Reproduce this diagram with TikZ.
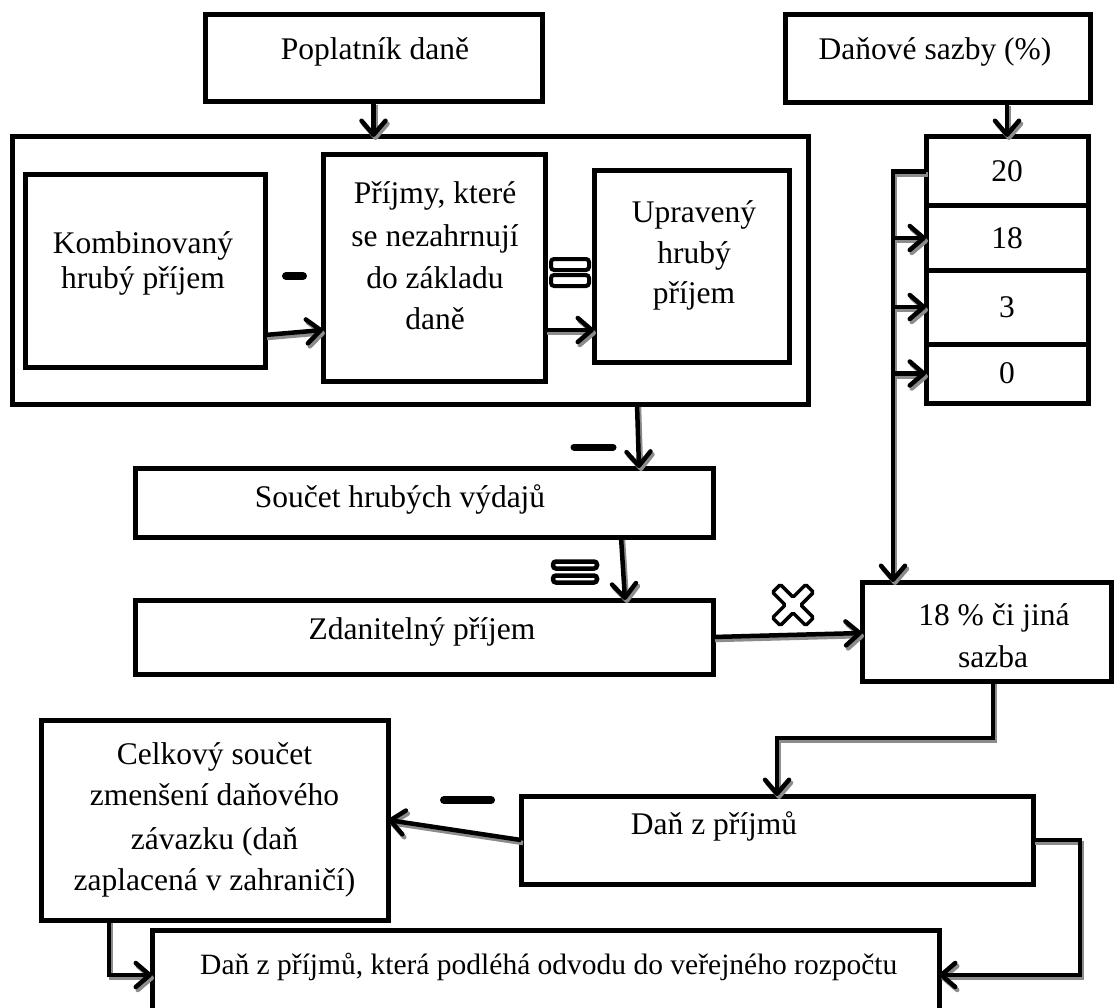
\documentclass[tikz,border=0pt]{standalone}
\usepackage{fontspec}
\setmainfont{Liberation Serif}
\usetikzlibrary{arrows.meta}

\begin{document}
\begin{tikzpicture}[x=1pt,y=-1pt,
  box/.style={draw, line width=5pt, inner sep=0pt, outer sep=0pt, rectangle},
  ln/.style={font=\fontsize{31.5}{38}\selectfont, anchor=base, inner sep=0pt},
  txt/.style={font=\fontsize{31.5}{38}\selectfont, inner sep=0pt},
  link/.style={line width=4.5pt,
    -{Straight Barb[length=14pt,width=24pt,round]},
    preaction={draw=black!45, line width=4.5pt,
      transform canvas={xshift=2pt,yshift=-3pt}}},
  opsign/.style={line width=8pt, line cap=round},
  eqbar/.style={draw, line width=4pt, rounded corners=3pt, fill=white},
]
\fill[white] (0,0) rectangle (1115,1008);
\useasboundingbox (0,0) rectangle (1115,1008);

% top boxes
\node[box, minimum width=337pt, minimum height=87pt] (pop) at (373.5,58.5) {};
\node[ln] (tpop) at (375,60) {Poplatník daně};
\node[box, minimum width=305pt, minimum height=88pt] (sazby) at (937.5,59) {};
\node[ln] (tsazby) at (935,60) {Daňové sazby (\%)};

% income block
\node[box, minimum width=796pt, minimum height=267pt] (outer) at (410,270.5) {};
\node[box, minimum width=240pt, minimum height=192pt] (komb) at (145,271) {};
\node[ln] (tkomb1) at (143,253) {Kombinovaný};
\node[ln] (tkomb2) at (143,288) {hrubý příjem};
\node[box, minimum width=222pt, minimum height=226pt] (prij) at (434,268) {};
\node[ln] (tprij1) at (435,204) {Příjmy, které};
\node[ln] (tprij2) at (435,246) {se nezahrnují};
\node[ln] (tprij3) at (435,288) {do základu};
\node[ln] (tprij4) at (435,329.5) {daně};
\node[box, minimum width=195pt, minimum height=191pt] (uprav) at (691.5,266.5) {};
\node[ln] (tuprav1) at (694,222.5) {Upravený};
\node[ln] (tuprav2) at (694,263) {hrubý};
\node[ln] (tuprav3) at (694,303) {příjem};

% rate table
\node[box, minimum width=162pt, minimum height=69pt] (r20) at (1007,171.5) {};
\node[box, minimum width=162pt, minimum height=64pt] (r18) at (1007,238) {};
\node[box, minimum width=162pt, minimum height=74pt] (r3) at (1007,307) {};
\node[box, minimum width=162pt, minimum height=59pt] (r0) at (1007,373.5) {};
\node[txt] (t20) at (r20) {20};
\node[txt] (t18) at (r18) {18};
\node[txt] (t3) at (r3) {3};
\node[txt] (t0) at (r0) {0};

% expenses and taxable income
\node[box, minimum width=578pt, minimum height=69pt] (soucet) at (424,502.5) {};
\node[ln] (tsoucet) at (400,507) {Součet hrubých výdajů};
\node[box, minimum width=578pt, minimum height=74pt] (zdan) at (424,637) {};
\node[ln] (tzdan) at (422,639) {Zdanitelný příjem};

% applied rate
\node[box, minimum width=249pt, minimum height=99pt] (s18) at (986.5,631.5) {};
\node[ln] (ts18a) at (994,625) {18 \% či jiná};
\node[ln] (ts18b) at (993,667) {sazba};

% tax and reductions
\node[box, minimum width=512pt, minimum height=88pt] (dan) at (777,840) {};
\node[ln] (tdan) at (714,834) {Daň z příjmů};
\node[box, minimum width=347pt, minimum height=200pt] (celk) at (214.5,820) {};
\node[ln] (tcelk1) at (214.5,764) {Celkový součet};
\node[ln] (tcelk2) at (214.5,805) {zmenšení daňového};
\node[ln] (tcelk3) at (214.5,849) {závazku (daň};
\node[ln] (tcelk4) at (214.5,890) {zaplacená v zahraničí)};
\node[box, minimum width=787pt, minimum height=90pt] (final) at (545.5,975) {};
\node[ln, anchor=base west, font=\fontsize{29.5}{34}\selectfont] (tfinal) at (200,974) {Daň z příjmů, která podléhá odvodu do veřejného rozpočtu};

% connectors
\draw[link] (pop.south) -- (pop.south |- outer.north);
\draw[link] (r20.north |- sazby.south) -- (r20.north);
\draw[link] ([yshift=-64pt]komb.east) -- ([yshift=-62pt]prij.west);
\draw[link] ([yshift=-62pt]prij.east) -- ([yshift=-63.5pt]uprav.west);
\draw[link] ([xshift=227pt]outer.south) -- ([xshift=215pt]soucet.north);
\draw[link] ([xshift=197pt]soucet.south) -- ([xshift=201pt]zdan.north);
\draw[link] (zdan.east) -- ([yshift=-1.5pt]s18.west);
\coordinate (trunk) at ([xshift=-93.5pt]s18.north);
\draw[link] (r20.west) -| (trunk);
\draw[link] (r18.west -| trunk) -- (r18.west);
\draw[link] (r3.west -| trunk) -- (r3.west);
\draw[link] (r0.west -| trunk) -- (r0.west);
\draw[link] ([xshift=6.5pt]s18.south) -- ++(0,57) -| (dan.north);
\draw[link] (dan.west) -- (celk.east);
\draw[link] ([xshift=-105.5pt]celk.south) |- (final.west);
\draw[link] (dan.east) -- ++(47,0) |- (final.east);

% operation signs
\draw[opsign] (286,276) -- (303,276);
\draw[opsign, line width=7pt] (574,447) -- (613,447);
\draw[opsign] (444,800) -- (491,800);
\draw[eqbar] (551,259) rectangle (589,270);
\draw[eqbar] (551,275) rectangle (589,286);
\draw[eqbar, line width=4.5pt] (553,561.5) rectangle (597,568.5);
\draw[eqbar, line width=4.5pt] (553,575.5) rectangle (597,582.5);
\draw[line width=3.5pt, rounded corners=1.5pt, fill=white, shift={(793,605)}, rotate=45]
  (5.5,23.5) -- (5.5,5.5) -- (23.5,5.5) -- (23.5,-5.5) -- (5.5,-5.5) -- (5.5,-23.5)
  -- (-5.5,-23.5) -- (-5.5,-5.5) -- (-23.5,-5.5) -- (-23.5,5.5) -- (-5.5,5.5) -- (-5.5,23.5) -- cycle;
\end{tikzpicture}
\end{document}
